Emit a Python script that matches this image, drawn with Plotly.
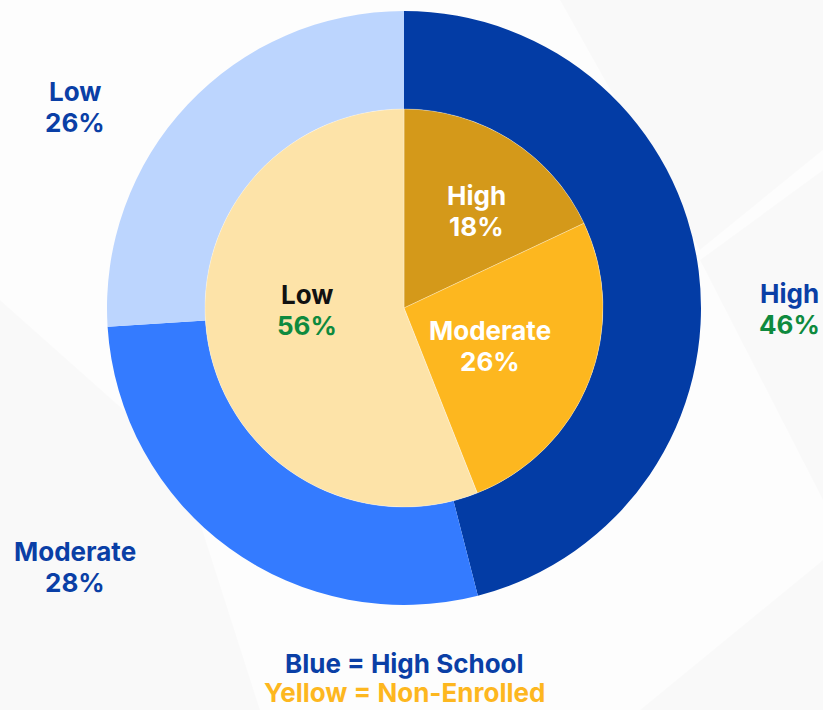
import plotly.graph_objects as go

# Data
levels = ["High", "Moderate", "Low"]
high_school = [46, 28, 26]        # outer ring (Blue = High School)
non_enrolled = [18, 26, 56]       # inner pie (Yellow = Non-Enrolled)
legend_lines = ["Blue = High School", "Yellow = Non-Enrolled"]

outer_colors = ["#033CA5", "#347BFF", "#BCD5FE"]
inner_colors = ["#D4991A", "#FDB71F", "#FDE3A8"]

BLUE = "#0A3FA6"
GREEN = "#0E8A3E"
FONT = "Inter"
FS = 26
LINE = 31

W, H = 823, 710
cx, cy = 404, 308
R_out, R_in = 297, 199

def dom(r):
    return dict(x=[(cx - r) / W, (cx + r) / W],
                y=[(H - cy - r) / H, (H - cy + r) / H])

def px(x, y):
    return x / W, 1 - y / H

fig = go.Figure()
fig.add_trace(go.Pie(
    labels=levels, values=high_school, hole=R_in / R_out, sort=False,
    direction="clockwise", rotation=0, domain=dom(R_out),
    marker=dict(colors=outer_colors, line=dict(width=0)),
    textinfo="none", hoverinfo="label+percent", showlegend=False,
))
fig.add_trace(go.Pie(
    labels=levels, values=non_enrolled, sort=False,
    direction="clockwise", rotation=0, domain=dom(R_in),
    marker=dict(colors=inner_colors, line=dict(width=0.6, color="rgba(255,255,255,0.5)")),
    textinfo="none", hoverinfo="label+percent", showlegend=False,
))

def two_line(x, y, top, bottom, c_top, c_bottom, line=LINE):
    for i, (t, c) in enumerate([(top, c_top), (bottom, c_bottom)]):
        ax, ay = px(x, y + i * line)
        fig.add_annotation(x=ax, y=ay, xref="paper", yref="paper", showarrow=False,
                           xanchor="center", yanchor="middle",
                           text=f"<b>{t}</b>", font=dict(family=FONT, size=FS, color=c))

# outer ring labels
outer_pos = {"Low": (75, 91), "High": (789, 293), "Moderate": (75, 551)}
for lab, v in zip(levels, high_school):
    x, y = outer_pos[lab]
    two_line(x, y, lab, f"{v}%", BLUE, GREEN if lab == "High" else BLUE)

# inner pie labels
inner_pos = {"High": (476, 195), "Moderate": (490, 330), "Low": (307, 294)}
for lab, v in zip(levels, non_enrolled):
    x, y = inner_pos[lab]
    if lab == "Low":
        two_line(x, y, lab, f"{v}%", "#111111", GREEN)
    else:
        two_line(x, y, lab, f"{v}%", "#FFFFFF", "#FFFFFF")

# legend text
two_line(404, 663, legend_lines[0], legend_lines[1], BLUE, "#FDB71F", line=29)

# faint background shapes (pixel coords -> paper)
bg_polys = [
    [(560, 0), (823, 0), (823, 150), (700, 250)],
    [(700, 260), (823, 170), (823, 500)],
    [(0, 300), (180, 460), (260, 710), (0, 710)],
    [(640, 710), (823, 560), (823, 710)],
]
for poly in bg_polys:
    pts = [px(a, b) for a, b in poly]
    path = "M " + " L ".join(f"{a:.4f} {b:.4f}" for a, b in pts) + " Z"
    fig.add_shape(type="path", path=path, xref="paper", yref="paper",
                  fillcolor="rgba(0,0,0,0.015)", line=dict(width=0), layer="below")

fig.update_layout(
    width=W, height=H, margin=dict(l=0, r=0, t=0, b=0),
    paper_bgcolor="#FDFDFD", plot_bgcolor="#FDFDFD",
    font=dict(family=FONT),
)

fig.write_html("out.html", config={"displayModeBar": False},
               post_script="document.body.style.margin='0';document.body.style.overflow='hidden';")
